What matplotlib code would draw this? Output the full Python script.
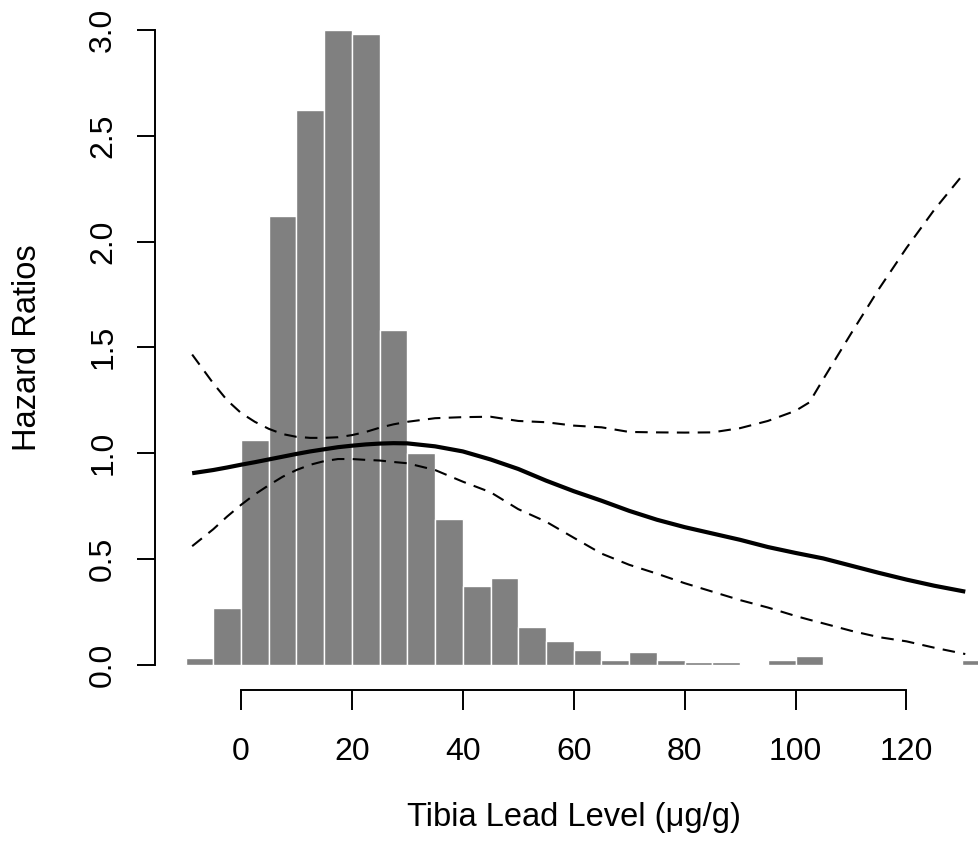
import matplotlib
matplotlib.use("Agg")
import matplotlib.pyplot as plt
import numpy as np

plt.rcParams['font.family'] = ['Liberation Sans', 'DejaVu Sans']

# Histogram of tibia lead levels (scaled to the hazard-ratio axis), 5 ug/g bins
bin_starts = [-10, -5, 0, 5, 10, 15, 20, 25, 30, 35, 40, 45, 50, 55, 60, 65, 70,
              75, 80, 85, 90, 95, 100, 105, 110, 115, 120, 125, 130]
bin_heights = [0.033, 0.27, 1.06, 2.12, 2.62, 3.00, 2.98, 1.58, 1.00, 0.69, 0.37,
               0.41, 0.18, 0.11, 0.07, 0.022, 0.06, 0.022, 0.014, 0.014, 0.0, 0.022,
               0.042, 0.0, 0.0, 0.0, 0.0, 0.0, 0.022]
bin_width = 5

# Fitted hazard ratio curve with pointwise confidence band
lead = [-8.8, -5, -2.5, 0, 2.5, 5, 7.5, 10, 12.5, 15, 17.5, 20, 22.5, 25, 27.5,
        30, 35, 40, 45, 50, 55, 60, 65, 70, 75, 80, 85, 90, 95, 100, 102.5, 105,
        110, 115, 120, 125, 130.6]
hr = [0.905, 0.920, 0.932, 0.945, 0.957, 0.970, 0.983, 0.996, 1.008, 1.018,
      1.028, 1.035, 1.041, 1.045, 1.047, 1.046, 1.032, 1.008, 0.970, 0.925,
      0.870, 0.820, 0.775, 0.727, 0.685, 0.650, 0.620, 0.590, 0.556, 0.528,
      0.515, 0.502, 0.468, 0.434, 0.402, 0.373, 0.345]
hr_upper = [1.466, 1.330, 1.250, 1.190, 1.148, 1.115, 1.090, 1.077, 1.072, 1.072,
            1.075, 1.085, 1.100, 1.120, 1.136, 1.148, 1.165, 1.170, 1.172, 1.152,
            1.146, 1.130, 1.122, 1.100, 1.098, 1.097, 1.098, 1.118, 1.152, 1.200,
            1.240, 1.350, 1.565, 1.775, 1.970, 2.150, 2.330]
hr_lower = [0.560, 0.640, 0.700, 0.755, 0.805, 0.848, 0.888, 0.920, 0.945, 0.962,
            0.972, 0.972, 0.968, 0.965, 0.958, 0.952, 0.920, 0.865, 0.815, 0.735,
            0.676, 0.600, 0.525, 0.472, 0.430, 0.385, 0.345, 0.305, 0.270, 0.230,
            0.212, 0.195, 0.160, 0.130, 0.110, 0.080, 0.050]

x_ticks = [0, 20, 40, 60, 80, 100, 120]
y_ticks = [0.0, 0.5, 1.0, 1.5, 2.0, 2.5, 3.0]
y_ticklabels = ["0.0", "0.5", "1.0", "1.5", "2.0", "2.5", "3.0"]

W, H = 979, 841
fig = plt.figure(figsize=(W / 100, H / 100), dpi=100)

# plot region in pixels (left, right, top, bottom); the right side runs past the canvas
px_left, px_right, px_top, px_bottom = 155, 993, 4.7, 690
ax = fig.add_axes([px_left / W, 1 - px_bottom / H,
                   (px_right - px_left) / W, (px_bottom - px_top) / H])

ax.bar(bin_starts, bin_heights, width=bin_width, align='edge',
       color='#808080', edgecolor='white', linewidth=1.0, zorder=1)

ax.plot(lead, hr, color='black', linewidth=3.0, solid_capstyle='butt', zorder=3)
ax.plot(lead, hr_upper, color='black', linewidth=1.5, dashes=(6, 4), zorder=3)
ax.plot(lead, hr_lower, color='black', linewidth=1.5, dashes=(6, 4), zorder=3)

# R-style 4% padded ranges
ax.set_xlim(-15.5, 135.6)
ax.set_ylim(-0.12, 3.12)

for side in ('top', 'right'):
    ax.spines[side].set_visible(False)
ax.spines['left'].set_bounds(0, 3)
ax.spines['bottom'].set_bounds(0, 120)
for side in ('left', 'bottom'):
    ax.spines[side].set_linewidth(1.4)

ax.set_xticks(x_ticks)
ax.set_xticklabels([str(t) for t in x_ticks])
ax.set_yticks(y_ticks)
ax.set_yticklabels(y_ticklabels, rotation=90, va='center')
ax.tick_params(axis='x', length=14.5, width=1.4, pad=19.5, labelsize=23)
ax.tick_params(axis='y', length=13, width=1.4, pad=13.5, labelsize=23)

fig.text(574 / W, 1 - 826 / H, 'Tibia Lead Level (\u03bcg/g)', fontsize=23.5,
         ha='center', va='baseline')
fig.text(27.5 / W, 1 - 348 / H, 'Hazard Ratios', fontsize=23.5, rotation=90,
         ha='center', va='center')

fig.savefig('out.png', dpi=100)
